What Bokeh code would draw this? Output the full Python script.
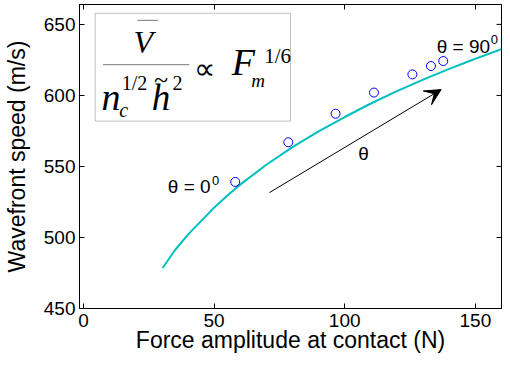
from bokeh.plotting import figure
from bokeh.models import Range1d, LinearAxis, FixedTicker, Label, BoxAnnotation, Arrow, VeeHead
from bokeh.embed import file_html
from bokeh.resources import INLINE

# ---- data ----
force_meas = [58.1, 78.4, 96.5, 111.2, 125.9, 133.0, 137.7]
speed_meas = [539.1, 567.0, 587.1, 602.0, 614.8, 620.7, 624.2]

force_fit = [30.3, 35, 40, 45, 50, 55, 60, 70, 80, 90, 100, 110, 120, 130, 140, 150, 160]
speed_fit = [478.5, 491.0, 502.0, 511.5, 521.0, 529.4, 537.2, 551.2, 563.6, 574.7, 584.8,
             594.3, 603.0, 611.1, 618.7, 625.8, 632.6]

x_ticks = [0, 50, 100, 150]
y_ticks = [450, 500, 550, 600, 650]
x_lim = (-1.5, 160)
y_lim = (450, 664)

arrow_start = [71.2, 531.6]
arrow_end = [136.9, 604.1]

# ---- reference pixel -> data helper for annotations ----
def rx(px):
    return (px - 82.0) / 2.663

def ry(py):
    return 450.0 + (314.0 - py) / 1.41

p = figure(width=502, height=355, x_range=Range1d(*x_lim), y_range=Range1d(*y_lim),
           output_backend="svg", toolbar_location=None,
           min_border_left=70, min_border_right=1, min_border_top=4, min_border_bottom=0)
p.grid.visible = False
p.outline_line_color = "black"
p.background_fill_color = "white"
p.border_fill_color = "white"

for ax in (p.xaxis[0], p.yaxis[0]):
    ax.major_label_text_font = "Liberation Sans"
    ax.major_label_text_font_size = "19px"
    ax.major_label_text_color = "black"
    ax.major_tick_in = 5
    ax.major_tick_out = 0
    ax.minor_tick_line_color = None
    ax.axis_line_color = "black"
    ax.major_tick_line_color = "black"
    ax.axis_label_text_font = "Liberation Sans"
    ax.axis_label_text_font_size = "23px"
    ax.axis_label_text_font_style = "normal"
    ax.axis_label_text_color = "black"

p.xaxis.ticker = FixedTicker(ticks=x_ticks)
p.yaxis.ticker = FixedTicker(ticks=y_ticks)
p.xaxis.axis_label = "Force amplitude at contact (N)"
p.yaxis.axis_label = "Wavefront speed (m/s)"
p.xaxis.major_label_standoff = 5
p.xaxis.axis_label_standoff = -3
p.yaxis.major_label_standoff = 4
p.yaxis.axis_label_standoff = 11

# box-style top axis (ticks only)
top_ax = LinearAxis(ticker=FixedTicker(ticks=x_ticks), major_tick_in=5, major_tick_out=0,
                    minor_tick_line_color=None, major_label_text_color=None,
                    major_label_text_font_size="0px", major_label_standoff=0,
                    axis_line_color="black", major_tick_line_color="black")
p.add_layout(top_ax, "above")
# right-side inward ticks at the y tick values
p.scatter([x_lim[1]] * len(y_ticks), y_ticks, marker="dash", size=10,
          line_color="black", line_width=1)

# fit curve and measurements
p.line(force_fit, speed_fit, line_color="#00bfbf", line_width=2)
p.scatter(force_meas, speed_meas, marker="circle", size=9, fill_color=None,
          line_color="#0000ff", line_width=1)

# arrow + theta labels
p.add_layout(Arrow(end=VeeHead(size=16, fill_color="black", line_color="black"),
                   x_start=arrow_start[0], y_start=arrow_start[1],
                   x_end=arrow_end[0], y_end=arrow_end[1], line_color="black", line_width=1))

sans = "Liberation Sans"
def lab(x, y, t, size, font=sans, style="normal", align="left"):
    p.add_layout(Label(x=x, y=y, text=t, text_font=font, text_font_size=size,
                       text_font_style=style, text_align=align, text_baseline="middle",
                       text_color="black"))

lab(rx(367.5), ry(160.5), "θ", "19px", align="center")
lab(rx(168), ry(192.5), "θ = 0", "19px")
lab(rx(213), ry(187), "0", "13px")
lab(rx(442), ry(53.5), "θ = 90", "19px")
lab(rx(497), ry(47), "0", "13px")

# formula box
p.add_layout(BoxAnnotation(left=rx(94), right=rx(293), top=ry(21), bottom=ry(128),
                           fill_color="white", fill_alpha=1, line_color="#333333",
                           line_width=1, level="annotation"))
serif = "Liberation Serif"
# overbar and fraction bar
p.add_layout(BoxAnnotation(left=rx(137), right=rx(158), top=ry(28), bottom=ry(28),
                           fill_alpha=0, line_color="black", line_width=1, level="annotation"))
p.add_layout(BoxAnnotation(left=rx(102), right=rx(190), top=ry(72), bottom=ry(72),
                           fill_alpha=0, line_color="black", line_width=1, level="annotation"))
lab(rx(143), ry(49), "V", "32px", serif, "italic", "center")
lab(rx(110), ry(104), "n", "38px", serif, "italic", "center")
lab(rx(123), ry(116.5), "c", "20px", serif, "italic", "center")
lab(rx(134), ry(90), "1/2", "20px", serif, "normal", "center")
lab(rx(161), ry(104.5), "h", "37px", serif, "italic", "center")
lab(rx(161), ry(87), "~", "26px", serif, "normal", "center")
lab(rx(178), ry(90), "2", "20px", serif, "normal", "center")
lab(rx(205), ry(76), "∝", "30px", serif, "normal", "center")
lab(rx(245), ry(69), "F", "38px", serif, "italic", "center")
lab(rx(260), ry(87.5), "m", "19px", serif, "italic", "center")
lab(rx(280), ry(63), "1/6", "21px", serif, "normal", "center")

open("out.html", "w").write(file_html(p, INLINE))
